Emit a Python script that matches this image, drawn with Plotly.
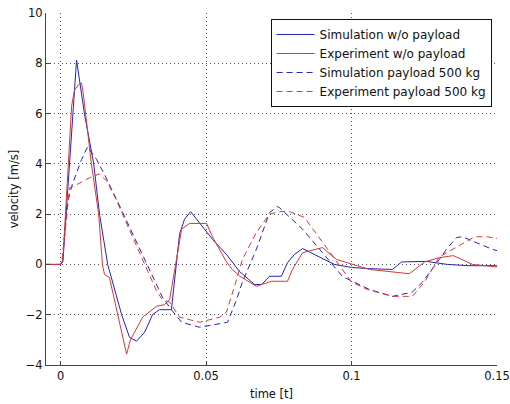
import plotly.graph_objects as go

# Simulation w/o payload
t_sim0 = [-0.005, 0, 0.0008, 0.0055, 0.0082, 0.0114, 0.0134, 0.0162, 0.0210, 0.0237, 0.0261,
          0.0289, 0.0316, 0.0340, 0.0381, 0.0392, 0.0409, 0.0426, 0.0447, 0.0478, 0.0522,
          0.0570, 0.0615, 0.0667, 0.0691, 0.0718, 0.0759, 0.0780, 0.0804, 0.0832, 0.0941,
          0.1000, 0.1062, 0.1141, 0.1172, 0.1258, 0.1330, 0.1400, 0.15]
v_sim0 = [0, 0, 0.1, 8.13, 6.0, 4.0, 2.0, 0.0, -2.0, -2.9, -3.05,
          -2.7, -2.0, -1.8, -1.8, -0.6, 1.2, 1.8, 2.1, 1.65, 1.0,
          0.4, -0.28, -0.8, -0.8, -0.47, -0.47, 0.07, 0.4, 0.63, 0.0,
          -0.12, -0.17, -0.2, 0.1, 0.12, 0.0, -0.05, -0.05]

# Experiment w/o payload
t_exp0 = [-0.005, 0, 0.0008, 0.0038, 0.0048, 0.0062, 0.0072, 0.0078, 0.0106, 0.0131, 0.0144,
          0.0151, 0.0168, 0.0196, 0.0227, 0.0240, 0.0282, 0.0330, 0.0357, 0.0375, 0.0416,
          0.0443, 0.0502, 0.0522, 0.0570, 0.0590, 0.0615, 0.0673, 0.0725, 0.0780, 0.0797,
          0.0832, 0.0900, 0.0948, 0.1062, 0.1199, 0.1251, 0.1302, 0.1350, 0.1416, 0.15]
v_exp0 = [0, 0, 0.2, 6.3, 6.94, 7.15, 7.22, 6.8, 4.0, 2.0, 0.0,
          -0.4, -0.52, -2.0, -3.57, -3.0, -2.1, -1.66, -1.6, -1.4, 1.4,
          1.63, 1.63, 1.1, 0.1, -0.2, -0.46, -0.87, -0.67, -0.67, -0.2,
          0.47, 0.67, 0.2, -0.2, -0.37, 0.1, 0.27, 0.35, 0.0, -0.1]

# Simulation payload 500 kg
t_sim5 = [-0.005, 0, 0.0005, 0.0025, 0.0038, 0.0072, 0.0093, 0.0124, 0.0150, 0.0200, 0.0350,
          0.0381, 0.0416, 0.0478, 0.0574, 0.0605, 0.0625, 0.0673, 0.0718, 0.0745, 0.0752,
          0.0832, 0.0900, 0.0969, 0.1062, 0.1141, 0.1209, 0.1244, 0.1302, 0.1326, 0.1361,
          0.1381, 0.1484, 0.15]
v_sim5 = [0, 0, 0.1, 2.5, 3.1, 4.17, 4.68, 4.17, 3.6, 2.4, -1.3,
          -1.8, -2.3, -2.5, -2.3, -1.4, -0.7, 0.6, 2.06, 2.3, 2.26,
          1.4, 0.47, -0.48, -1.0, -1.27, -1.1, -0.7, 0.2, 0.6, 1.07,
          1.1, 0.6, 0.55]

# Experiment payload 500 kg
t_exp5 = [-0.005, 0, 0.0005, 0.0022, 0.0031, 0.0055, 0.0100, 0.0134, 0.0160, 0.0190, 0.0330,
          0.0350, 0.0375, 0.0409, 0.0478, 0.0546, 0.0570, 0.0598, 0.0625, 0.0673, 0.0718,
          0.0752, 0.0787, 0.0838, 0.0880, 0.0948, 0.1000, 0.1055, 0.1141, 0.1209, 0.1251,
          0.1302, 0.1361, 0.1423, 0.1467, 0.15]
v_exp5 = [0, 0, 0.1, 2.06, 3.05, 3.17, 3.45, 3.6, 3.3, 2.6, -1.06,
          -1.4, -1.5, -2.1, -2.3, -2.1, -1.9, -0.87, 0.2, 1.27, 2.0,
          2.1, 2.1, 1.87, 1.2, 0.08, -0.7, -1.0, -1.27, -1.27, -0.7,
          0.3, 0.7, 1.1, 1.1, 1.03]

x_ticks = [0, 0.05, 0.1, 0.15]
x_ticklabels = ["0", "0.05", "0.1", "0.15"]
y_ticks = [-4, -2, 0, 2, 4, 6, 8, 10]

BLUE = "#2424b4"
RED = "#d43a3a"
FONT = "DejaVu Sans, Verdana, sans-serif"

fig = go.Figure()
fig.add_trace(go.Scatter(x=t_sim0, y=v_sim0, mode="lines", name="Simulation w/o payload",
                         line=dict(color=BLUE, width=1)))
fig.add_trace(go.Scatter(x=t_exp0, y=v_exp0, mode="lines", name="Experiment w/o payload",
                         line=dict(color=RED, width=1)))
fig.add_trace(go.Scatter(x=t_sim5, y=v_sim5, mode="lines", name="Simulation payload 500 kg",
                         line=dict(color=BLUE, width=1, dash="6px,4px")))
fig.add_trace(go.Scatter(x=t_exp5, y=v_exp5, mode="lines", name="Experiment payload 500 kg",
                         line=dict(color=RED, width=1, dash="6px,4px")))

axis_common = dict(
    showgrid=True, gridcolor="#555555", gridwidth=1, griddash="1px,3px",
    showline=True, linecolor="#444444", linewidth=1,
    ticks="inside", ticklen=4, tickcolor="#444444",
    zeroline=False, mirror=False, automargin=False,
    tickfont=dict(family=FONT, size=11.5, color="#111111"),
)

fig.update_layout(
    width=510, height=404,
    margin=dict(l=46, r=13, t=13, b=39),
    paper_bgcolor="white", plot_bgcolor="white",
    font=dict(family=FONT, size=11.5, color="#111111"),
    xaxis=dict(range=[-0.005, 0.15], tickvals=x_ticks, ticktext=x_ticklabels,
               title=dict(text="time [t]", standoff=8, font=dict(size=11.5)), **axis_common),
    yaxis=dict(range=[-4, 10], tickvals=y_ticks,
               title=dict(text="velocity [m/s]", standoff=4, font=dict(size=11.5)), **axis_common),
    legend=dict(x=0.988, y=0.983, xanchor="right", yanchor="top",
                bgcolor="white", bordercolor="#111111", borderwidth=1,
                font=dict(family=FONT, size=12, color="#111111"), itemwidth=38,
                tracegroupgap=0),
    showlegend=True,
)

fig.write_html("out.html", post_script="document.body.style.margin='0';",
               config={"displayModeBar": False})
